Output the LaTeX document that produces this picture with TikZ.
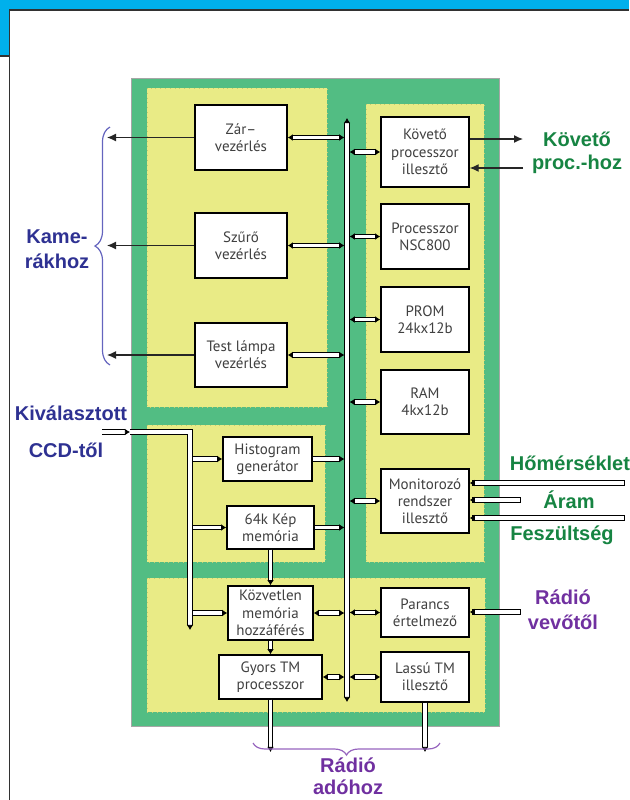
\documentclass[tikz,border=0pt]{standalone}
\usepackage{fontspec}
\setmainfont{PT Sans}
\newfontfamily\lblfont{Liberation Sans}
\usetikzlibrary{arrows.meta,decorations.pathreplacing}

\definecolor{topblue}{RGB}{0,176,236}
\definecolor{framegray}{RGB}{50,50,50}
\definecolor{panelgreen}{RGB}{82,189,131}
\definecolor{panelyellow}{RGB}{233,235,134}
\definecolor{yellowedge}{RGB}{200,202,110}
\definecolor{boxtext}{RGB}{64,64,64}
\definecolor{camblue}{RGB}{46,49,146}
\definecolor{lblgreen}{RGB}{22,132,66}
\definecolor{radiopurple}{RGB}{112,48,160}
\definecolor{braceblue}{RGB}{100,100,190}
\definecolor{bracepurple}{RGB}{150,100,190}

\tikzset{
  panel/.style={fill=panelyellow, draw=yellowedge, line width=0.4pt, dotted},
  unit/.style={draw=black, line width=0.7pt, fill=white, text=boxtext, align=center,
    inner sep=1pt, font=\fontsize{7.5}{8.6}\selectfont},
  leftunit/.style={unit, minimum width=46pt, minimum height=32.5pt},
  rightunit/.style={unit, minimum width=44pt, minimum height=32.5pt},
  lbl/.style={align=center, inner sep=0pt, font=\lblfont\bfseries\fontsize{10}{12.5}\selectfont},
  busline/.style={draw=black, line width=0.45pt, double=white, double distance=1.7pt},
  sig/.style={draw=black!85, line width=0.6pt, -{Latex[length=4.5pt,width=4pt]}},
  bracedraw/.style={decorate, line width=0.6pt}
}

\begin{document}
\begin{tikzpicture}[x=0.5pt,y=-0.5pt,>={Latex[length=2.6pt,width=3.4pt]}]
\useasboundingbox (0,0) rectangle (629,800);
% keret
\fill[topblue] (0,0) rectangle (629,10);
\fill[topblue] (0,0) rectangle (9.5,56);
\draw[framegray, line width=0.7pt] (9.5,800) -- (9.5,10) -- (629,10);
\draw[framegray, line width=0.7pt] (0,56) -- (9.5,56);

% panelek
\filldraw[fill=panelgreen, draw=gray!70, line width=0.4pt] (131,78) rectangle (499,726);
\filldraw[panel] (147,88) rectangle (327,407);
\filldraw[panel] (366,104) rectangle (484,562);
\filldraw[panel] (147,425) rectangle (325,562);
\filldraw[panel] (147,578) rectangle (485,712);

% kamera vezerlok
\node[leftunit] (zar) at (241,137.5) {Zár–\\vezérlés};
\node[leftunit] (szuro) at (241,245.5) {Szűrő\\vezérlés};
\node[leftunit, minimum height=32pt] (teszt) at (241,355) {Test lámpa\\vezérlés};

% processzor oldal
\node[rightunit, minimum height=35pt] (kovproc) at (425,152) {Követő\\processzor\\illesztő};
\node[rightunit] (proc) at (425,236.5) {Processzor\\NSC800};
\node[rightunit] (prom) at (425,319.5) {PROM\\24kx12b};
\node[rightunit, minimum height=32pt] (ram) at (425,402) {RAM\\4kx12b};
\node[rightunit, minimum height=32pt] (monitor) at (425,501) {Monitorozó\\rendszer\\illesztő};
\node[rightunit, minimum height=24.5pt] (parancs) at (425,612.5) {Parancs\\értelmező};
\node[rightunit, minimum height=25pt] (lassu) at (425,677) {Lassú TM\\illesztő};

% kep feldolgozas
\node[unit, minimum width=44.5pt, minimum height=22pt] (hist) at (267.5,459) {Histogram\\generátor};
\node[unit, minimum width=43.5pt, minimum height=21.5pt] (kep) at (270.5,527.5) {64k Kép\\memória};
\node[unit, minimum width=42.5pt, minimum height=27pt] (kozv) at (270.5,613) {Közvetlen\\memória\\hozzáférés};
\node[unit, minimum width=51.5pt, minimum height=22pt] (gyors) at (270.5,677) {Gyors TM\\processzor};

% feliratok
\node[lbl, text=camblue] (kamera) at (57,249) {Kame-\\rákhoz};
\node[lbl, text=camblue] (kival) at (71,413) {Kiválasztott};
\node[lbl, text=camblue] (ccd) at (66,450) {CCD-től};
\node[lbl, text=lblgreen, font=\lblfont\bfseries\fontsize{10}{11.5}\selectfont] (kovlbl) at (577,153) {Követő\\proc.-hoz};
\node[lbl, text=lblgreen] (homer) at (570,463) {Hőmérséklet};
\node[lbl, text=lblgreen] (aram) at (569,500) {Áram};
\node[lbl, text=lblgreen] (fesz) at (562,535) {Feszültség};
\node[lbl, text=radiopurple] (vevo) at (563,610) {Rádió\\vevőtől};
\node[lbl, text=radiopurple, font=\lblfont\bfseries\fontsize{10}{11}\selectfont] (ado) at (348,776) {Rádió\\adóhoz};

% kamerahoz
\coordinate (camout) at (107,246);
\foreach \n in {zar,szuro,teszt}
  \draw[sig] (\n.west) -- (\n.west -| camout);
\draw[bracedraw, decoration={brace,amplitude=7.5pt}, draw=braceblue] (110,365) -- (110,127);

% kovetohoz
\coordinate (kovout) at (523,139);
\coordinate (kovin) at (523,168);
\draw[sig] (kovout -| kovproc.east) -- (kovout);
\draw[sig] (kovin) -- (kovin -| kovproc.east);

% busz csatlakozasok
\coordinate (bustop) at (347,118);
\coordinate (busbot) at (347,702);
\foreach \n in {zar,szuro,teszt,kozv,gyors}
  \draw[busline,<->,shorten >=1.3pt] (\n.east) -- (\n.east -| bustop);
\foreach \n in {kovproc,proc,prom,ram,monitor,parancs,lassu}
  \draw[busline,<->,shorten <=1.3pt] (\n.west -| bustop) -- (\n.west);
\foreach \n in {hist,kep}
  \draw[busline,->,shorten >=1.3pt] (\n.east) -- (\n.east -| bustop);

% CCD bemenet
\coordinate (ccdin) at (102,432);
\coordinate (ccdentry) at (130,432);
\coordinate (ccdturn) at (190,432);
\coordinate (ccdend) at (190,630);
\foreach \n in {hist,kep,kozv}
  \draw[busline,->] (\n.west -| ccdturn) -- (\n.west);
\draw[busline,->] (ccdin) -- (ccdentry);
\draw[busline,->] (ccdentry) -- (ccdturn) -- (ccdend);
\draw[busline,->] (kep.south) -- (kozv.north);
\draw[busline,->] (kozv.south) -- (gyors.north);

% busz
\draw[busline,<->] (bustop) -- (busbot);

% monitor bemenetek
\coordinate (tempin) at (622,483);
\coordinate (curin) at (518,500);
\coordinate (voltin) at (622,518);
\foreach \c in {tempin,curin,voltin}
  \draw[busline,line cap=rect,->] (\c) -- (\c -| monitor.east);
\coordinate (cmdin) at (518,612);
\draw[busline,line cap=rect,->] (cmdin) -- (cmdin -| parancs.east);

% radio ado
\coordinate (txlevel) at (348,752);
\foreach \n in {gyors,lassu}
  \draw[busline,->] (\n.south) -- (\n.south |- txlevel);
\draw[bracedraw, decoration={brace,amplitude=6pt}, draw=bracepurple] (440,743) -- (253,743);
\end{tikzpicture}
\end{document}
